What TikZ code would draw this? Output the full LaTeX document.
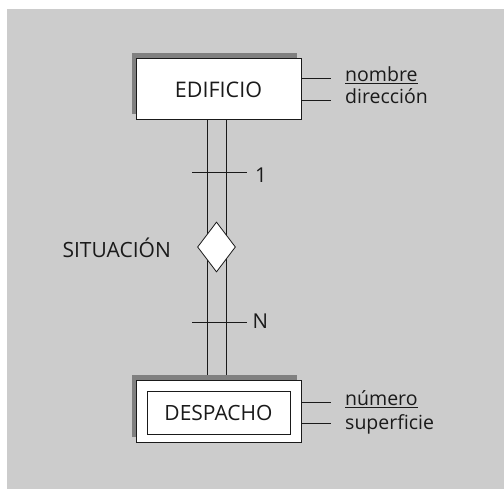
\documentclass[tikz,border=0pt]{standalone}
\usepackage{fontspec}
\setmainfont{Open Sans}
\usetikzlibrary{shapes.geometric,shadows,backgrounds,calc}
\definecolor{bgc}{HTML}{CCCCCC}
\definecolor{shc}{HTML}{808080}
\definecolor{ink}{HTML}{1A1A1A}
\begin{document}
\begin{tikzpicture}[x=1pt,y=-1pt,
  every node/.style={text=ink},
  ln/.style={draw=ink,line width=1pt},
  entity/.style={draw=ink,line width=1pt,fill=white,minimum width=165pt,minimum height=61pt,inner sep=0pt,
    drop shadow={shadow xshift=-4.5pt,shadow yshift=5.5pt,fill=shc,opacity=1}},
  inner/.style={draw=ink,line width=1pt,fill=white,minimum width=143pt,minimum height=42pt,inner sep=0pt,
    font=\fontsize{21}{25}\selectfont},
  rel/.style={diamond,draw=ink,line width=0.8pt,fill=white,inner sep=0pt,minimum width=38pt,minimum height=50pt},
  lbl/.style={font=\fontsize{19.5}{23}\selectfont,inner sep=0pt},
]
\useasboundingbox (0,0) rectangle (504,489);
\node[entity] (edif) at (218.5,89.5) {};
\node[font=\fontsize{21.5}{25}\selectfont] (ediflbl) at (edif.center) {EDIFICIO};
\node[entity] (desp) at (218.5,411.5) {};
\node[inner] (despin) at (218.5,413) {DESPACHO};
\node[rel] (sit) at (216.5,247) {};
\node[lbl,font=\fontsize{21}{25}\selectfont,anchor=base east] (sitl) at (171,257.5) {SITUACIÓN};
% attributes
\node[lbl,anchor=base west] (nombre) at (345,82) {\underline{nombre}};
\node[lbl,anchor=base west] (direc) at (345,104) {dirección};
\node[lbl,anchor=base west] (numero) at (345,405.5) {\underline{número}};
\node[lbl,anchor=base west] (superf) at (345,429) {superficie};
\coordinate (a1) at (331,79);
\coordinate (a2) at (331,101);
\coordinate (a3) at (331,403);
\coordinate (a4) at (331,424);
\draw[ln] (edif.east |- a1) -- (a1);
\draw[ln] (edif.east |- a2) -- (a2);
\draw[ln] (desp.east |- a3) -- (a3);
\draw[ln] (desp.east |- a4) -- (a4);
% cardinalities
\node[lbl,font=\fontsize{20.5}{24}\selectfont,anchor=base west] (one) at (255,183) {1};
\node[lbl,font=\fontsize{20.5}{24}\selectfont,anchor=base west] (enn) at (252.5,328.5) {N};
\coordinate (t1) at (192,173);
\coordinate (t2) at (192,323);
\begin{pgfonlayer}{background}
\fill[bgc] (7,9) rectangle (504,489);
\coordinate (l1) at ([xshift=-9.5pt]sit.center);
\coordinate (l2) at ([xshift=9.5pt]sit.center);
\draw[ln] (l1 |- edif.south) -- (l1 |- desp.north);
\draw[ln] (l2 |- edif.south) -- (l2 |- desp.north);
\draw[ln] (t1) -- ($(t1 -| one.west)+(-8,0)$);
\draw[ln] (t2) -- ($(t2 -| enn.west)+(-5.5,0)$);
\end{pgfonlayer}
\end{tikzpicture}
\end{document}
